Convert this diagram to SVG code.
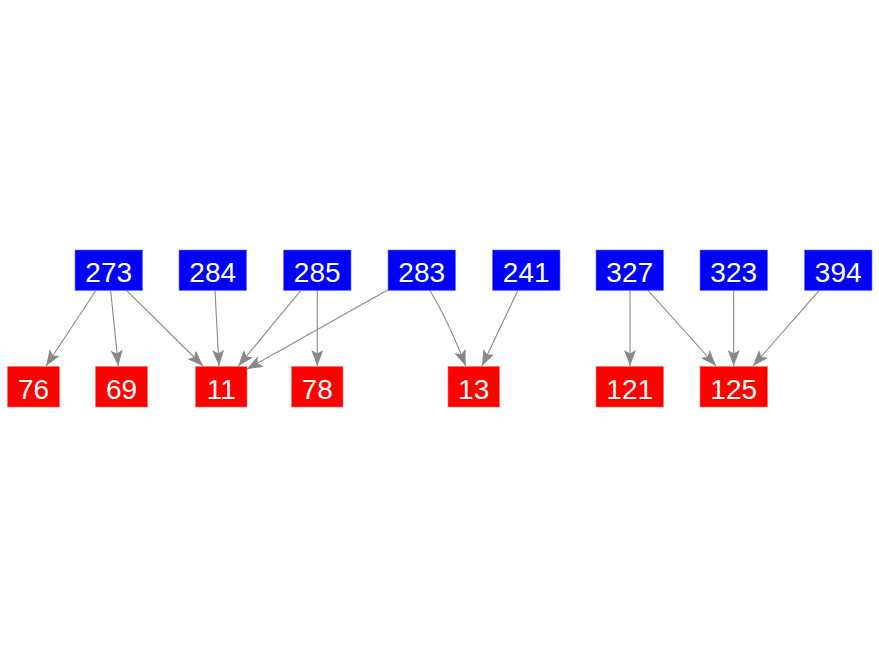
<svg xmlns="http://www.w3.org/2000/svg" width="879" height="656" viewBox="0 0 879 656">
<defs>
<style>
.b{fill:#0000ff;stroke:#6f6fff;stroke-width:0.6}
.r{fill:#ff0000;stroke:#ff7070;stroke-width:0.6}
.t{fill:#ffffff;font-family:"Liberation Sans",Arial,sans-serif;font-size:28px;text-anchor:middle}
.e{fill:none;stroke:#888888;stroke-width:1.1}
</style>
<marker id="a" markerUnits="userSpaceOnUse" markerWidth="18" markerHeight="14" refX="16" refY="6" orient="auto">
<path d="M0,0 L16,6 L0,12 L3.5,6 z" fill="#888888"/>
</marker>
</defs>
<rect width="879" height="656" fill="#ffffff"/>
<g id="edges">
<path class="e" marker-end="url(#a)" d="M95.7,290.7 L46,366"/>
<path class="e" marker-end="url(#a)" d="M110.7,290.7 L118.3,366"/>
<path class="e" marker-end="url(#a)" d="M126.7,290.7 L203,366"/>
<path class="e" marker-end="url(#a)" d="M215,290.7 L219,366"/>
<path class="e" marker-end="url(#a)" d="M300.7,290.7 L238.3,366"/>
<path class="e" marker-end="url(#a)" d="M387.7,290 L246.7,369.3"/>
<path class="e" marker-end="url(#a)" d="M317.3,290.7 L317.3,366"/>
<path class="e" marker-end="url(#a)" d="M430,290.7 Q448,320 465.7,366"/>
<path class="e" marker-end="url(#a)" d="M517.7,290.7 L482,366"/>
<path class="e" marker-end="url(#a)" d="M630,290.7 L630,366"/>
<path class="e" marker-end="url(#a)" d="M648.3,290.7 L716,366"/>
<path class="e" marker-end="url(#a)" d="M733.7,290.7 L733.7,366"/>
<path class="e" marker-end="url(#a)" d="M819,290.7 L753,366"/>
</g>
<g id="n273"><rect class="b" x="75" y="250" width="67.5" height="40.5"/><text class="t" x="108.7" y="282">273</text></g>
<g id="n284"><rect class="b" x="179" y="250" width="67.5" height="40.5"/><text class="t" x="212.7" y="282">284</text></g>
<g id="n285"><rect class="b" x="283.5" y="250" width="67.5" height="40.5"/><text class="t" x="317.2" y="282">285</text></g>
<g id="n283"><rect class="b" x="388" y="250" width="67.5" height="40.5"/><text class="t" x="421.7" y="282">283</text></g>
<g id="n241"><rect class="b" x="492.5" y="250" width="67.5" height="40.5"/><text class="t" x="526.2" y="282">241</text></g>
<g id="n327"><rect class="b" x="596" y="250" width="67.5" height="40.5"/><text class="t" x="629.7" y="282">327</text></g>
<g id="n323"><rect class="b" x="700" y="250" width="67.5" height="40.5"/><text class="t" x="733.7" y="282">323</text></g>
<g id="n394"><rect class="b" x="804.5" y="250" width="67.5" height="40.5"/><text class="t" x="838.2" y="282">394</text></g>
<g id="n76"><rect class="r" x="7.5" y="366.5" width="52" height="40.5"/><text class="t" x="33.5" y="399">76</text></g>
<g id="n69"><rect class="r" x="95.5" y="366.5" width="52" height="40.5"/><text class="t" x="121.5" y="399">69</text></g>
<g id="n11"><rect class="r" x="195.5" y="366.5" width="51.5" height="40.5"/><text class="t" x="221.2" y="399">11</text></g>
<g id="n78"><rect class="r" x="291.5" y="366.5" width="51.5" height="40.5"/><text class="t" x="317.2" y="399">78</text></g>
<g id="n13"><rect class="r" x="448" y="366.5" width="51.5" height="40.5"/><text class="t" x="473.7" y="399">13</text></g>
<g id="n121"><rect class="r" x="596" y="366.5" width="67.5" height="40.5"/><text class="t" x="629.7" y="399">121</text></g>
<g id="n125"><rect class="r" x="700" y="366.5" width="67.5" height="40.5"/><text class="t" x="733.7" y="399">125</text></g>
</svg>
